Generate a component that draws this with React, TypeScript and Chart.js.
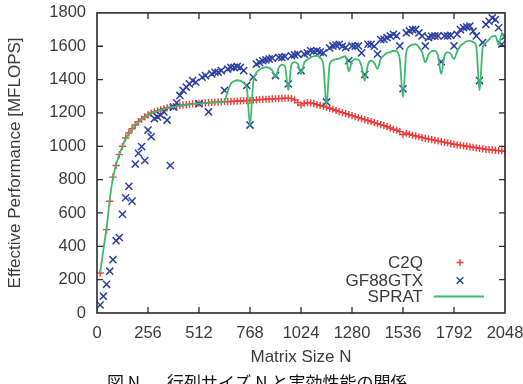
import React, { useEffect, useRef } from "react";
import { Chart, registerables } from "chart.js";

Chart.register(...registerables);

// Matrix sizes are sampled every STEP (16, 32, ..., 2048)
const STEP = 16;

// C2Q effective performance [MFLOPS] (null = no sample)
const C2Q: (number | null)[] = [
  240, null, 500, 670, 815, 885, 950, 1000, 1050, 1080, 1105, 1128, 1148, 1163, 1176, 1188,
  1198, 1206, 1213, 1219, 1225, 1230, 1234, 1238, 1242, 1245, 1248, 1250, 1252, 1254, 1256, 1258,
  1259, 1260, 1262, 1263, 1264, 1265, 1266, 1267, 1268, 1269, 1270, 1271, 1272, 1273, 1274, 1275,
  1276, 1278, 1280, 1281, 1282, 1283, 1284, 1285, 1286, 1287, 1288, 1288, 1286, 1278, 1262, 1248,
  1258, 1262, 1260, 1256, 1250, 1245, 1240, 1235, 1228, 1222, 1215, 1208, 1202, 1196, 1190, 1184,
  1178, 1172, 1166, 1160, 1154, 1148, 1142, 1136, 1130, 1124, 1118, 1110, 1102, 1096, 1088, 1070,
  1078, 1072, 1066, 1062, 1057, 1052, 1048, 1044, 1040, 1036, 1032, 1028, 1024, 1020, 1016, 1012,
  1009, 1006, 1003, 1000, 997, 994, 991, 988, 985, 982, 980, 978, 976, 974, 972, 970,
];

// GF88GTX effective performance [MFLOPS]
const GF88GTX: number[] = [
  48, 101, 172, 251, 320, 434, 453, 592, 691, 760, 671, 893, 958, 998, 915, 1097,
  1057, 1166, 1176, 1186, 1206, 1157, 885, 1235, 1261, 1305, 1335, 1355, 1374, 1394, 1384, 1255,
  1414, 1424, 1206, 1434, 1444, 1444, 1454, 1335, 1463, 1473, 1473, 1478, 1473, 1454, 1365, 1127,
  1414, 1493, 1503, 1513, 1518, 1523, 1528, 1424, 1533, 1533, 1538, 1374, 1543, 1548, 1553, 1454,
  1553, 1560, 1573, 1570, 1573, 1565, 1560, 1266, 1590, 1602, 1607, 1612, 1600, 1592, 1513, 1602,
  1600, 1602, 1560, 1430, 1612, 1612, 1600, 1553, 1640, 1642, 1652, 1662, 1672, 1662, 1602, 1345,
  1680, 1692, 1700, 1701, 1680, 1662, 1602, 1652, 1660, 1662, 1662, 1507, 1662, 1662, 1665, 1602,
  1672, 1700, 1711, 1716, 1721, 1690, 1662, 1394, 1622, 1731, 1750, 1770, 1760, 1711, 1612, 1660,
];

// SPRAT effective performance [MFLOPS]
const SPRAT: number[] = [
  240, 380, 510, 680, 810, 890, 950, 1000, 1048, 1078, 1103, 1126, 1146, 1162, 1175, 1187,
  1197, 1205, 1212, 1218, 1224, 1229, 1233, 1237, 1241, 1244, 1247, 1249, 1251, 1253, 1255, 1257,
  1258, 1259, 1261, 1262, 1263, 1264, 1265, 1270, 1330, 1375, 1390, 1396, 1392, 1378, 1350, 1127,
  1380, 1440, 1460, 1470, 1475, 1470, 1455, 1414, 1470, 1490, 1480, 1335, 1490, 1505, 1495, 1434,
  1500, 1520, 1532, 1540, 1543, 1530, 1490, 1250, 1490, 1515, 1523, 1525, 1535, 1540, 1450, 1510,
  1523, 1520, 1480, 1394, 1490, 1513, 1500, 1464, 1523, 1545, 1560, 1565, 1573, 1570, 1520, 1295,
  1560, 1600, 1610, 1612, 1595, 1563, 1503, 1550, 1570, 1573, 1540, 1434, 1540, 1563, 1555, 1523,
  1570, 1602, 1618, 1630, 1632, 1625, 1600, 1335, 1590, 1622, 1640, 1660, 1662, 1610, 1672, 1645,
];

const X_MAX = 2048;
const X_TICK_STEP = 256;
const Y_MAX = 1800;
const Y_TICK_STEP = 200;

const SERIES_LABELS = ["C2Q", "GF88GTX", "SPRAT"];
const X_TITLE = "Matrix Size N";
const Y_TITLE = "Effective Performance [MFLOPS]";
const CAPTION_A = "図 N.";
const CAPTION_B = "行列サイズ N と実効性能の関係";

const RED = "#ee3a3a";
const BLUE = "#2b3fa0";
const GREEN = "#3dba6c";
const INK = "#3a3a3a";
const FONT = "'Liberation Sans', Arial, Helvetica, sans-serif";

const sizes = C2Q.map((_, i) => (i + 1) * STEP);
const toPoints = (vals: (number | null)[]) => vals.map((v, i) => ({ x: sizes[i], y: v }));
const plainNumber = (v: any) => String(v);

const framePlugin = {
  id: "frame",
  afterDatasetsDraw(chart: any) {
    const { ctx, chartArea, scales } = chart;
    const { left, right, top, bottom } = chartArea;
    ctx.save();
    ctx.strokeStyle = "#2a2a2a";
    ctx.lineWidth = 1.6;
    ctx.strokeRect(left, top, right - left, bottom - top);
    ctx.lineWidth = 1.3;
    const tl = 6;
    ctx.beginPath();
    for (let v = X_TICK_STEP; v < X_MAX; v += X_TICK_STEP) {
      const px = scales.x.getPixelForValue(v);
      ctx.moveTo(px, bottom);
      ctx.lineTo(px, bottom - tl);
      ctx.moveTo(px, top);
      ctx.lineTo(px, top + tl);
    }
    for (let v = Y_TICK_STEP; v < Y_MAX; v += Y_TICK_STEP) {
      const py = scales.y.getPixelForValue(v);
      ctx.moveTo(left, py);
      ctx.lineTo(left + tl, py);
      ctx.moveTo(right, py);
      ctx.lineTo(right - tl, py);
    }
    ctx.stroke();
    ctx.restore();
  },
};

const legendPlugin = {
  id: "keyBox",
  afterDraw(chart: any) {
    const { ctx, chartArea } = chart;
    const { right, bottom } = chartArea;
    const textX = right - 82;
    const symX = right - 45;
    const rows = [bottom - 50.5, bottom - 32.5, bottom - 16.5];
    ctx.save();
    ctx.font = `17px ${FONT}`;
    ctx.fillStyle = INK;
    ctx.textAlign = "right";
    ctx.textBaseline = "middle";
    rows.forEach((y, i) => ctx.fillText(SERIES_LABELS[i], textX, y + 0.5));
    // C2Q plus
    ctx.strokeStyle = RED;
    ctx.lineWidth = 1.4;
    ctx.beginPath();
    ctx.moveTo(symX - 3.5, rows[0]);
    ctx.lineTo(symX + 3.5, rows[0]);
    ctx.moveTo(symX, rows[0] - 3.5);
    ctx.lineTo(symX, rows[0] + 3.5);
    ctx.stroke();
    // GF88GTX cross
    ctx.strokeStyle = BLUE;
    ctx.lineWidth = 1.5;
    ctx.beginPath();
    ctx.moveTo(symX - 3.3, rows[1] - 3.3);
    ctx.lineTo(symX + 3.3, rows[1] + 3.3);
    ctx.moveTo(symX - 3.3, rows[1] + 3.3);
    ctx.lineTo(symX + 3.3, rows[1] - 3.3);
    ctx.stroke();
    // SPRAT line
    ctx.strokeStyle = GREEN;
    ctx.lineWidth = 2;
    ctx.beginPath();
    ctx.moveTo(right - 71, rows[2]);
    ctx.lineTo(right - 21, rows[2]);
    ctx.stroke();
    ctx.restore();
  },
};

export default function App() {
  const canvasRef = useRef<HTMLCanvasElement | null>(null);

  useEffect(() => {
    if (!canvasRef.current) return;
    const chart = new Chart(canvasRef.current, {
      type: "line",
      data: {
        datasets: [
          {
            label: SERIES_LABELS[2],
            data: toPoints(SPRAT),
            borderColor: GREEN,
            backgroundColor: GREEN,
            borderWidth: 1.8,
            pointRadius: 0,
            cubicInterpolationMode: "monotone",
            order: 0,
          },
          {
            label: SERIES_LABELS[1],
            data: toPoints(GF88GTX),
            showLine: false,
            pointStyle: "crossRot",
            pointRadius: 5,
            pointBorderWidth: 1.5,
            borderColor: BLUE,
            backgroundColor: BLUE,
            order: 1,
          },
          {
            label: SERIES_LABELS[0],
            data: toPoints(C2Q),
            showLine: false,
            pointStyle: "cross",
            pointRadius: 3.6,
            pointBorderWidth: 1.4,
            borderColor: RED,
            backgroundColor: RED,
            order: 2,
          },
        ] as any,
      },
      options: {
        animation: false,
        responsive: false,
        events: [],
        layout: { padding: { left: 0, right: 25, top: 10, bottom: 16 } },
        plugins: { legend: { display: false }, tooltip: { enabled: false } },
        scales: {
          x: {
            type: "linear",
            min: 0,
            max: X_MAX,
            grid: { display: false },
            border: { display: false },
            ticks: {
              stepSize: X_TICK_STEP,
              autoSkip: false,
              maxRotation: 0,
              padding: 3,
              color: INK,
              font: { family: FONT, size: 16.5 },
              callback: plainNumber,
            },
            title: {
              display: true,
              text: X_TITLE,
              color: INK,
              font: { family: FONT, size: 17 },
              padding: { top: 0, bottom: 0 },
            },
            afterFit: (s: any) => {
              s.height = 55;
            },
          },
          y: {
            type: "linear",
            min: 0,
            max: Y_MAX,
            grid: { display: false },
            border: { display: false },
            ticks: {
              stepSize: Y_TICK_STEP,
              padding: 3,
              color: INK,
              font: { family: FONT, size: 16.5 },
              callback: plainNumber,
            },
            title: {
              display: true,
              text: Y_TITLE,
              color: INK,
              font: { family: FONT, size: 17 },
              padding: { top: 5, bottom: 0 },
            },
            afterFit: (s: any) => {
              s.width = 97;
            },
          },
        },
      },
      plugins: [framePlugin, legendPlugin],
    });
    return () => chart.destroy();
  }, []);

  return (
    <div
      style={{
        position: "fixed",
        left: 0,
        top: 0,
        width: 523,
        height: 384,
        overflow: "hidden",
        background: "#fff",
      }}
    >
      <canvas ref={canvasRef} width={530} height={384} style={{ display: "block" }} />
      <div
        style={{
          position: "absolute",
          top: 372,
          left: 107,
          fontFamily: "'Noto Sans CJK JP', sans-serif",
          fontSize: 17,
          lineHeight: "20px",
          color: "#111",
          whiteSpace: "nowrap",
        }}
      >
        {CAPTION_A}
      </div>
      <div
        style={{
          position: "absolute",
          top: 372,
          left: 167,
          fontFamily: "'Noto Sans CJK JP', sans-serif",
          fontSize: 17,
          lineHeight: "20px",
          color: "#111",
          whiteSpace: "nowrap",
        }}
      >
        {CAPTION_B}
      </div>
    </div>
  );
}
